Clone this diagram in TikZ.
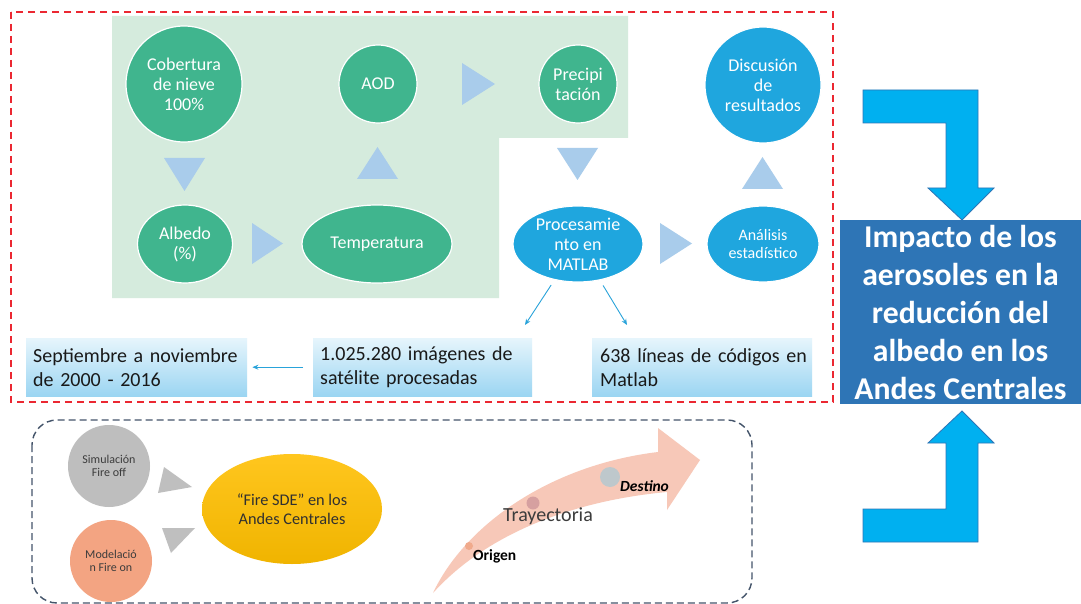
\documentclass[tikz,border=0pt]{standalone}
\usepackage{fontspec}
\setmainfont{Carlito}
\usetikzlibrary{shapes.geometric,arrows.meta}
\definecolor{ngreen}{RGB}{64,181,142}
\definecolor{bggreen}{RGB}{213,235,221}
\definecolor{nblue}{RGB}{31,166,222}
\definecolor{tri}{RGB}{169,204,235}
\definecolor{reddash}{RGB}{235,40,50}
\definecolor{slate}{RGB}{68,84,106}
\definecolor{impactblue}{RGB}{46,117,182}
\definecolor{bigarrow}{RGB}{0,176,240}
\definecolor{tblue}{RGB}{41,163,218}
\definecolor{boxtop}{RGB}{230,245,252}
\definecolor{boxbot}{RGB}{155,213,242}
\definecolor{graytri}{RGB}{191,191,191}
\definecolor{graycirc}{RGB}{190,190,190}
\definecolor{salmon}{RGB}{243,164,130}
\definecolor{goldtop}{RGB}{255,198,30}
\definecolor{goldbot}{RGB}{240,180,0}
\definecolor{curve}{RGB}{247,200,184}
\definecolor{darktext}{RGB}{60,60,60}
\definecolor{dotO}{RGB}{240,170,140}
\definecolor{dotT}{RGB}{214,160,160}
\definecolor{dotD}{RGB}{190,200,204}
\begin{document}
\begin{tikzpicture}[x=1pt,y=-1pt,
  gcirc/.style={circle, fill=ngreen, draw=white, line width=1.2pt, text=white, align=center, inner sep=0pt, font=\fontsize{18}{20}\selectfont},
  gell/.style={ellipse, fill=ngreen, draw=white, line width=1.2pt, text=white, align=center, inner sep=0pt, font=\fontsize{18}{20}\selectfont},
  bcirc/.style={circle, fill=nblue, draw=white, line width=1.2pt, text=white, align=center, inner sep=0pt, font=\fontsize{18}{20}\selectfont},
  bell/.style={ellipse, fill=nblue, draw=white, line width=1.2pt, text=white, align=center, inner sep=0pt, font=\fontsize{18}{20}\selectfont},
  infobox/.style={rectangle, top color=boxtop, bottom color=boxbot, anchor=north west, inner xsep=7pt, inner ysep=0pt, minimum height=58pt, align=left, text=black!90, font=\fontsize{20}{24}\selectfont},
  tarrow/.style={draw=tblue, line width=0.9pt, -{Stealth[length=6pt,width=5pt]}},
  smallcirc/.style={circle, inner sep=0pt, minimum size=82pt, align=center, text=darktext, font=\fontsize{12}{13.5}\selectfont},
  lbl/.style={inner sep=0pt, text=darktext}
]
\useasboundingbox (0,0) rectangle (1081,604);
\fill[white] (0,0) rectangle (1081,604);

% green background
\fill[bggreen] (112,16) -- (628,16) -- (628,138) -- (499,138) -- (499,298) -- (112,298) -- cycle;

% red dashed frame
\draw[reddash, line width=1.4pt, dash pattern=on 7pt off 5pt] (11,12) rectangle (833,402);

% nodes of the upper flow
\node[gcirc, minimum size=116pt] (cob) at (184,84) {Cobertura\\de nieve\\100\%};
\node[gcirc, minimum size=78pt] (aod) at (378,84) {AOD};
\node[gcirc, minimum size=78pt] (pre) at (578,84) {Precipi\\tación};
\node[bcirc, minimum size=116pt] (dis) at (763,85) {Discusión\\de\\resultados};
\node[gell, minimum width=95pt, minimum height=78pt] (alb) at (185,244) {Albedo\\(\%)};
\node[gell, minimum width=150pt, minimum height=78pt] (tem) at (377,244) {Temperatura};
\node[bell, minimum width=130pt, minimum height=76pt, inner ysep=-4pt] (proc) at (578,244) {Procesamie\\nto en\\MATLAB};
\node[bell, minimum width=112pt, minimum height=76pt, font=\fontsize{16}{17.5}\selectfont] (ana) at (763,244) {Análisis\\estadístico};

% chevrons (light blue triangles)
\fill[tri] (164,158) -- (205,158) -- (184.5,191) -- cycle;
\fill[tri] (252,223) -- (283,243.5) -- (252,264) -- cycle;
\fill[tri] (357,179) -- (398,179) -- (377.5,147) -- cycle;
\fill[tri] (462,63) -- (495,84) -- (462,105) -- cycle;
\fill[tri] (557,148) -- (598,148) -- (577.5,180) -- cycle;
\fill[tri] (660,223) -- (692,243.5) -- (660,264) -- cycle;
\fill[tri] (742,189) -- (783,189) -- (762.5,157) -- cycle;

% info boxes
\node[infobox, text width=207pt] (sep) at (26,338) {\mbox{Septiembre a noviembre}\\de 2000 - 2016};
\node[infobox, text width=205pt] (img) at (313,338) {\mbox{1.025.280 imágenes de}\\satélite procesadas};
\node[infobox, text width=204pt, inner xsep=8pt] (cod) at (592,338) {\mbox{638 líneas de códigos en}\\Matlab};

\coordinate (t1) at (525,325);
\coordinate (t2) at (627,325);
\draw[tarrow, shorten <=6pt] (proc) -- (t1);
\draw[tarrow, shorten <=6pt] (proc) -- (t2);
\draw[tarrow, shorten <=10pt, shorten >=5pt] (img.west) -- (sep.east);

% impact box
\node[rectangle, fill=impactblue, text=white, align=center, inner sep=0pt, minimum width=241pt, minimum height=184pt, font=\bfseries\fontsize{31.7}{38}\selectfont] (impact) at (960.5,312) {Impacto de los\\aerosoles en la\\reducción del\\albedo en los\\Andes Centrales};

% big bent arrows
\filldraw[fill=bigarrow, draw=impactblue, line width=0.8pt] (863,90) -- (978,90) -- (978,188) -- (994,188) -- (962,220) -- (928,188) -- (946,188) -- (946,123) -- (863,123) -- cycle;
\filldraw[fill=bigarrow, draw=impactblue, line width=0.8pt] (962,411) -- (994,443) -- (978,443) -- (978,542) -- (863,542) -- (863,509) -- (946,509) -- (946,443) -- (928,443) -- cycle;

% lower dashed frame
\draw[slate, line width=1.4pt, dash pattern=on 7pt off 4pt, rounded corners=25pt] (32,420) rectangle (752,603);

% fire diagram
\node[smallcirc, fill=graycirc] (sim) at (109,466) {Simulación\\Fire off};
\node[smallcirc, fill=salmon] (mod) at (111,561) {Modelació\\n Fire on};
\node[ellipse, top color=goldtop, bottom color=goldbot, inner sep=0pt, minimum width=180pt, minimum height=110pt, align=center, text=darktext!80!black, font=\fontsize{16.3}{19}\selectfont] (fire) at (292,509) {“Fire SDE” en los\\Andes Centrales};
\fill[graytri] (158,493) -- (164,467) -- (192,487) -- cycle;
\fill[graytri] (162,528) -- (171,553) -- (195,528) -- cycle;

% curved trajectory arrow
\fill[curve] (433,593) .. controls (465,525) and (550,465) .. (658,452) -- (658,428) -- (700,460) -- (667,510) -- (667,492) .. controls (580,500) and (490,530) .. (433,593) -- cycle;
\node[circle, fill=dotO, inner sep=0pt, minimum size=8pt] (o) at (469,546) {};
\node[circle, fill=dotT, inner sep=0pt, minimum size=13pt] (tr) at (533,503) {};
\node[circle, fill=dotD, inner sep=0pt, minimum size=20pt] (de) at (610,477) {};
\node[lbl, anchor=base west, font=\bfseries\fontsize{15.5}{18}\selectfont, text=black] (otx) at (473,560) {Origen};
\node[lbl, anchor=base west, font=\fontsize{20}{22}\selectfont] (trtx) at (503,521) {Trayectoria};
\node[lbl, anchor=base west, font=\bfseries\itshape\fontsize{15.5}{18}\selectfont, text=black] (detx) at (620,491) {Destino};
\end{tikzpicture}
\end{document}
